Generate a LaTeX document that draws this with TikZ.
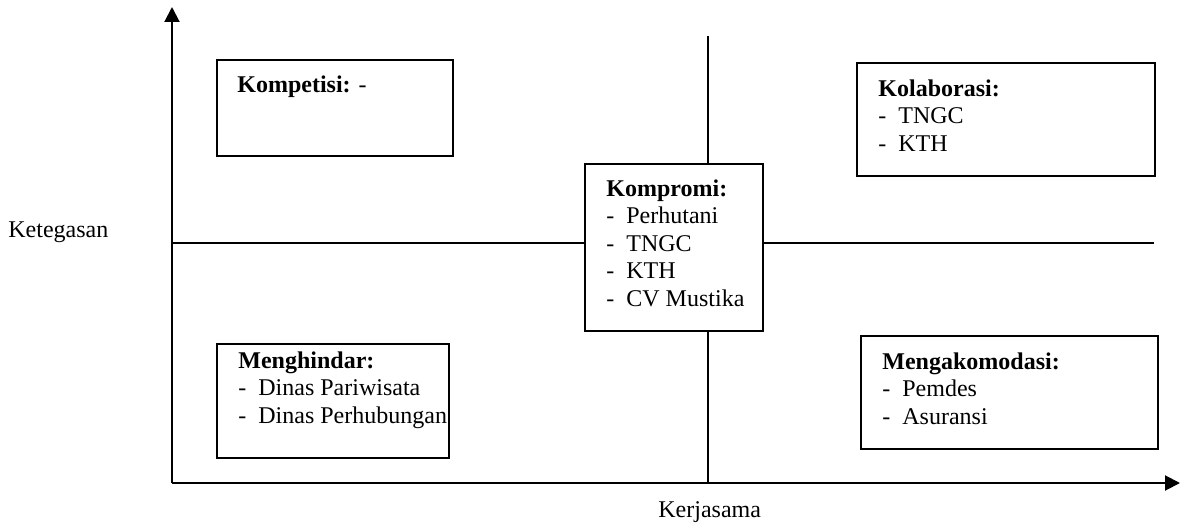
\documentclass[tikz,border=0pt]{standalone}
\usepackage{fontspec}
\setmainfont{Liberation Serif}
\usepackage{tikz}
\usetikzlibrary{arrows.meta,positioning}
\newcommand{\itm}[1]{\makebox[10pt][l]{-}#1}

\begin{document}
\begin{tikzpicture}[
  x=0.5pt,y=-0.5pt,
  font=\fontsize{12}{13.75}\selectfont,
  box/.style={draw,line width=0.8pt,anchor=north west,inner sep=0pt},
  txt/.style={anchor=north west,inner sep=0pt,align=left},
  lbl/.style={anchor=base west,inner sep=0pt},
  axis/.style={line width=1pt,-{Triangle[length=7.5pt,width=7.5pt]}},
  mid/.style={line width=1pt}
]
\useasboundingbox (0,0) rectangle (1182,524);
\coordinate (o) at (172,483);
\coordinate (ytip) at (172,7);
\coordinate (xtip) at (1180,483);
\draw[axis] (o) -- (ytip);
\draw[axis] (o) -- (xtip);
% quadrant boxes
\node[box,minimum width=118pt,minimum height=48pt] (kompetisi) at (216,59) {};
\node[box,minimum width=149pt,minimum height=56.5pt] (kolaborasi) at (856,62) {};
\node[box,minimum width=89pt,minimum height=83.5pt] (kompromi) at (584,163) {};
\node[box,minimum width=116pt,minimum height=57pt] (menghindar) at (216,343) {};
\node[box,minimum width=148.5pt,minimum height=56.5pt] (akomodasi) at (860,335) {};
\node[lbl] (kompetisi-t) at (237,93) {\textbf{Kompetisi:} -};
\node[txt] (kolaborasi-t) at (878,79) {\textbf{Kolaborasi:}\\\itm{TNGC}\\\itm{KTH}};
\node[txt] (kompromi-t) at (606,179) {\textbf{Kompromi:}\\\itm{Perhutani}\\\itm{TNGC}\\\itm{KTH}\\\itm{CV Mustika}};
\node[txt] (menghindar-t) at (238,351) {\textbf{Menghindar:}\\\itm{Dinas Pariwisata}\\\itm{Dinas Perhubungan}};
\node[txt] (akomodasi-t) at (882,352) {\textbf{Mengakomodasi:}\\\itm{Pemdes}\\\itm{Asuransi}};
% dividing lines
\coordinate (vtop) at (708,36);
\coordinate (hleft) at (172,243);
\coordinate (hright) at (1154,243);
\draw[mid] (vtop) -- (vtop |- kompromi.north);
\draw[mid] (vtop |- kompromi.south) -- (vtop |- o);
\draw[mid] (hleft) -- (kompromi.west |- hleft);
\draw[mid] (kompromi.east |- hright) -- (hright);
% axis labels
\node[lbl] (yl) at (8,237) {Ketegasan};
\node[lbl] (xl) at (658,517) {Kerjasama};
\end{tikzpicture}
\end{document}
